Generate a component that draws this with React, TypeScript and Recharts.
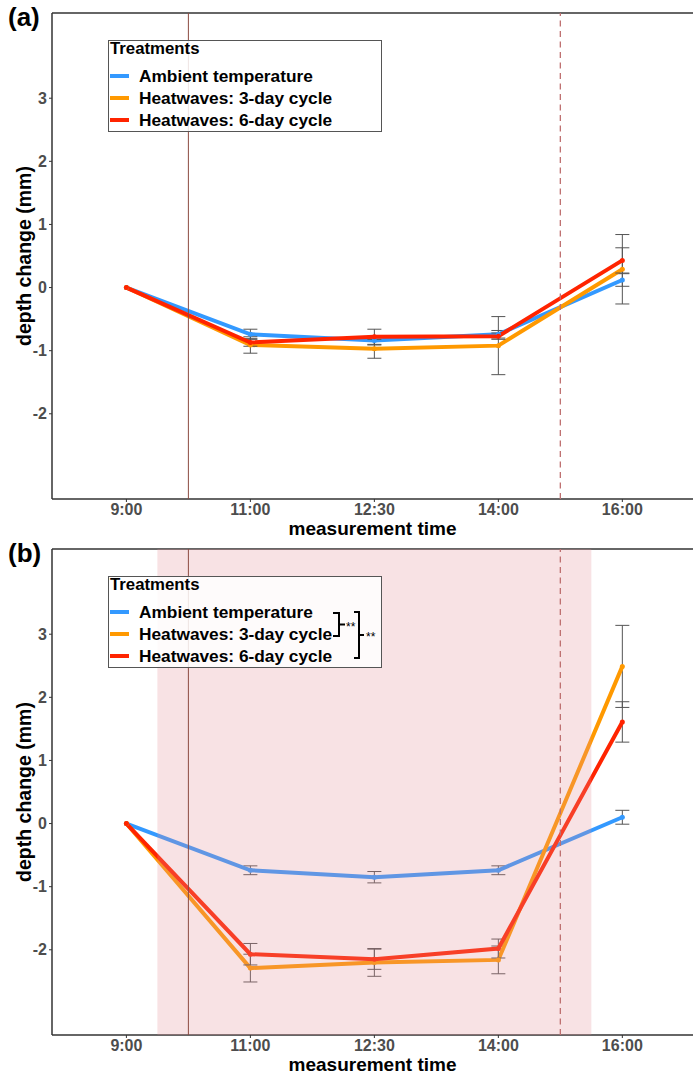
import React from 'react';
import { LineChart, Line, XAxis, YAxis, ErrorBar, ReferenceLine, ReferenceArea, Legend } from 'recharts';

const FONT = '"Liberation Sans", Arial, Helvetica, sans-serif';

// categories
const TIME_LABELS = ['9:00', '11:00', '12:30', '14:00', '16:00'];
const TIME_POS = [1, 2, 3, 4, 5];
const Y_TICKS = [-2, -1, 0, 1, 2, 3];

// series
const SERIES_NAMES = ['Ambient temperature', 'Heatwaves: 3-day cycle', 'Heatwaves: 6-day cycle'];
const SERIES_COLORS = ['#3399FF', '#FF9900', '#FF2400'];

// panel (a)
const A_AMBIENT = [0, -0.74, -0.84, -0.74, 0.12];
const A_AMBIENT_SE = [0, 0.08, 0.07, 0.06, 0.1];
const A_HW3 = [0, -0.91, -0.97, -0.92, 0.29];
const A_HW3_SE = [0, 0.13, 0.15, 0.46, 0.55];
const A_HW6 = [0, -0.87, -0.78, -0.77, 0.43];
const A_HW6_SE = [0, 0.06, 0.12, 0.05, 0.2];

// panel (b)
const B_AMBIENT = [0, -0.74, -0.85, -0.74, 0.1];
const B_AMBIENT_SE = [0, 0.07, 0.09, 0.07, 0.11];
const B_HW3 = [0, -2.29, -2.2, -2.16, 2.49];
const B_HW3_SE = [0, 0.22, 0.22, 0.22, 0.65];
const B_HW6 = [0, -2.07, -2.15, -1.98, 1.61];
const B_HW6_SE = [0, 0.17, 0.16, 0.15, 0.32];

const X_DOMAIN = [0.4, 5.57];
const Y_DOMAIN = [-3.35, 4.35];
const HEAT_START = 1.25;
const HEAT_END = 4.75;
const HW_START_LINE = 1.5;
const HW_END_LINE = 4.5;

function buildData(amb: number[], ambSe: number[], h3: number[], h3Se: number[], h6: number[], h6Se: number[]) {
  return TIME_POS.map((x, i) => ({
    x,
    amb: amb[i], ambSe: ambSe[i],
    h3: h3[i], h3Se: h3Se[i],
    h6: h6[i], h6Se: h6Se[i],
  }));
}

const DATA_A = buildData(A_AMBIENT, A_AMBIENT_SE, A_HW3, A_HW3_SE, A_HW6, A_HW6_SE);
const DATA_B = buildData(B_AMBIENT, B_AMBIENT_SE, B_HW3, B_HW3_SE, B_HW6, B_HW6_SE);

const XTitle = (props: any) => {
  const vb = props.viewBox || {};
  return (
    <text x={vb.x + vb.width / 2} y={vb.y + 36} textAnchor="middle" fontFamily={FONT} fontWeight="bold" fontSize={19} fill="#000">
      measurement time
    </text>
  );
};

const YTitle = (props: any) => {
  const vb = props.viewBox || {};
  const cy = vb.y + vb.height / 2;
  return (
    <text x={31} y={cy} transform={`rotate(-90, 31, ${cy})`} textAnchor="middle" fontFamily={FONT} fontWeight="bold" fontSize={19.5} fill="#000">
      depth change (mm)
    </text>
  );
};

function LegendBox({ bg, brackets }: { bg: string; brackets: boolean }) {
  const rows = [42, 64, 86];
  return (
    <svg width={274} height={92} style={{ overflow: 'visible', display: 'block' }}>
      <rect x={0.5} y={0.5} width={273} height={91} fill={bg} stroke="#555" strokeWidth={1} />
      <text x={2} y={14} fontFamily={FONT} fontWeight="bold" fontSize={16.8} fill="#000">Treatments</text>
      {SERIES_NAMES.map((n, i) => (
        <g key={n}>
          <line x1={2} x2={21} y1={rows[i] - 6} y2={rows[i] - 6} stroke={SERIES_COLORS[i]} strokeWidth={4} />
          <text x={31} y={rows[i]} fontFamily={FONT} fontWeight="bold" fontSize={17.3} fill="#000">{n}</text>
        </g>
      ))}
      {brackets && (
        <g stroke="#000" strokeWidth={2} fill="none">
          <polyline points="225,37 231,37 231,60 225,60" />
          <line x1={231} x2={237} y1={48.5} y2={48.5} />
          <polyline points="246,36 251,36 251,82 246,82" />
          <line x1={251} x2={256} y1={59} y2={59} />
        </g>
      )}
      {brackets && (
        <g fontFamily={FONT} fontSize={12} fill="#000">
          <text x={238} y={55}>**</text>
          <text x={258} y={65}>**</text>
        </g>
      )}
    </svg>
  );
}

function Panel({ tag, data, heat, legendBg, brackets, top }: { tag: string; data: any[]; heat: boolean; legendBg: string; brackets: boolean; top: number }) {
  const keys = ['amb', 'h3', 'h6'];
  return (
    <div style={{ position: 'absolute', left: 0, top, width: 693, height: 540 }}>
      <LineChart width={693} height={540} data={data} margin={{ top: 13, right: 0, bottom: 0, left: 0 }}>
        <XAxis
          dataKey="x"
          type="number"
          domain={X_DOMAIN}
          allowDataOverflow
          ticks={TIME_POS}
          interval={0}
          tickFormatter={(v: number) => TIME_LABELS[TIME_POS.indexOf(v)]}
          height={41}
          axisLine={{ stroke: '#333', strokeWidth: 1.5 }}
          tickLine={{ stroke: '#333' }}
          tickSize={3}
          tickMargin={2}
          tick={{ fill: '#4d4d4d', fontSize: 16, fontWeight: 'bold', fontFamily: FONT }}
          label={{ content: XTitle }}
        />
        <YAxis
          type="number"
          domain={Y_DOMAIN}
          allowDataOverflow
          ticks={Y_TICKS}
          interval={0}
          width={52}
          axisLine={{ stroke: '#333', strokeWidth: 1.5 }}
          tickLine={{ stroke: '#333' }}
          tickSize={3}
          tickMargin={2}
          tick={{ fill: '#4d4d4d', fontSize: 16, fontWeight: 'bold', fontFamily: FONT }}
          label={{ content: YTitle }}
        />
        <ReferenceLine y={Y_DOMAIN[1]} stroke="#333" strokeWidth={1.5} />
        {keys.map((k, i) => (
          <Line
            key={k}
            type="linear"
            dataKey={k}
            name={SERIES_NAMES[i]}
            stroke={SERIES_COLORS[i]}
            strokeWidth={4}
            dot={{ r: 2.5, fill: SERIES_COLORS[i], stroke: 'none' }}
            isAnimationActive={false}
          >
            <ErrorBar dataKey={`${k}Se`} direction="y" width={7} stroke="#555" strokeWidth={1} />
          </Line>
        ))}
        {heat && (
          <ReferenceArea
            x1={HEAT_START}
            x2={HEAT_END}
            y1={Y_DOMAIN[0]}
            y2={Y_DOMAIN[1]}
            fill="#e58f98"
            fillOpacity={0.26}
            stroke="none"
            {...({ zIndex: 900 } as any)}
          />
        )}
        <ReferenceLine x={HW_START_LINE} stroke="#8b4b40" strokeWidth={1} {...({ zIndex: 950 } as any)} />
        <ReferenceLine x={HW_END_LINE} stroke="#bf7070" strokeWidth={1.3} strokeDasharray="6 4.5" {...({ zIndex: 950 } as any)} />
        <Legend
          layout="vertical"
          align="center"
          verticalAlign="middle"
          wrapperStyle={{ left: 108, top: 40, width: 274, height: 92 }}
          content={() => <LegendBox bg={legendBg} brackets={brackets} />}
        />
      </LineChart>
      <div style={{ position: 'absolute', left: 8, top: 0, fontFamily: FONT, fontWeight: 'bold', fontSize: 26, lineHeight: '34px', color: '#000' }}>
        {tag}
      </div>
    </div>
  );
}

export default function App() {
  return (
    <div style={{ position: 'absolute', left: 0, top: 0, width: 693, height: 1075, background: '#fff', overflow: 'hidden' }}>
      <Panel tag="(a)" data={DATA_A} heat={false} legendBg="rgba(255,255,255,0.85)" brackets={false} top={0} />
      <Panel tag="(b)" data={DATA_B} heat={true} legendBg="rgba(255,255,255,0.85)" brackets={true} top={536} />
    </div>
  );
}
